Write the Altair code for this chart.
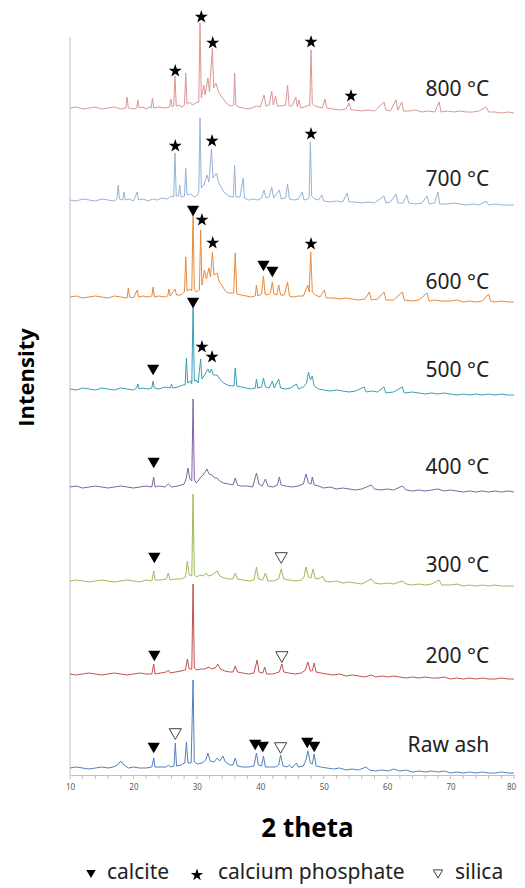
import altair as alt
import pandas as pd

# ---------------- data ----------------
series_names = ["Raw ash", "200 °C", "300 °C", "400 °C", "500 °C", "600 °C", "700 °C", "800 °C"]
series_offsets = [0, 94, 187, 281, 379, 471, 568, 660]
series_colors = ["#4f81bd", "#c0504d", "#9bbb59", "#8064a2", "#3a9fb5", "#e8893a", "#95b3d7", "#d99694"]
label_heights = [22, 17, 15, 19, 18, 14, 20, 18]
label_two_theta = 76.1

xrd_raw = [(10,0),(11,1),(12,0),(13,-1),(14,0),(15,1),(16,0),(16.8,1),(17.5,3),(18,7),(18.5,3),(19.2,0),(20,1),(21,0),(22,0),(22.9,1),(23.2,10),(23.4,1),(24.2,1),(25.2,1),(25.5,3),(25.8,1),(26.4,2),(26.6,25),(26.8,2),(27.5,3),(28.1,5),(28.35,26),(28.6,5),(29.1,5),(29.4,88),(29.6,6),(30.1,4),(30.8,5),(31.4,8),(31.75,15),(32.1,7),(32.7,6),(33.2,10),(33.6,7),(34.1,12),(34.5,6),(35.2,3),(35.7,3),(36.05,10),(36.4,2),(37.2,1),(38.2,1),(39,2),(39.4,15),(39.7,3),(40.2,2),(40.5,12),(40.8,1),(41.6,1),(42.4,1),(42.9,3),(43.2,13),(43.6,2),(44.2,1),(44.6,3),(45,0),(45.7,5),(46,1),(46.8,2),(47.2,8),(47.5,17),(47.9,5),(48.2,4),(48.5,14),(48.8,2),(49.5,1),(50.5,0),(51.5,-1),(52.5,0),(53.5,-2),(54.5,-1),(55.5,-2),(56.7,1),(57.2,-2),(58.2,-3),(59.2,-2),(60.2,-3),(61,-1),(62,-3),(63,-2),(64,-4),(65,-3),(66,-4),(67,-3),(68,-4),(69,-3),(70,-5),(71,-4),(72,-5),(73,-4),(74,-5),(75,-4),(76,-5),(77,-5),(78,-4),(79,-5),(80,-5)]

xrd_200 = [(10,0),(11,-1),(12,0),(13,1),(14,0),(15,-1),(16,0),(17,1),(18,0),(19,-1),(20,0),(21,1),(22,0),(22.9,0),(23.2,10),(23.4,0),(24.3,1),(25.2,2),(25.5,4),(25.8,1),(26.6,2),(27.5,3),(28.2,4),(28.5,15),(28.8,5),(29.2,5),(29.4,90),(29.6,6),(30,4),(30.6,5),(31.2,5),(31.9,7),(32.3,5),(32.9,6),(33.3,10),(33.7,5),(34.4,3),(35.2,2),(35.7,2),(36.05,8),(36.4,2),(37.2,1),(38.2,0),(39,1),(39.5,14),(39.8,2),(40.4,1),(40.7,7),(41,0),(42,0),(43,2),(43.4,10),(43.7,2),(44.5,1),(45.5,0),(46.5,1),(47.1,4),(47.5,12),(47.9,3),(48.2,3),(48.5,11),(48.8,2),(49.6,1),(50.5,0),(51.5,-1),(52.5,0),(53.5,-2),(54.5,-1),(55.5,-2),(56.5,-3),(57.5,-1),(58.2,-3),(59.2,-2),(60.2,-3),(61,-2),(62,-3),(63,-4),(64,-3),(65,-4),(66,-3),(67,-4),(68,-4),(69,-3),(70,-5),(71,-4),(72,-5),(73,-4),(74,-5),(75,-4),(76,-5),(77,-5),(78,-4),(79,-5),(80,-5)]

xrd_300 = [(10,0),(11,1),(12,0),(13,-1),(14,0),(15,1),(16,0),(17,-1),(18,0),(19,1),(20,0),(21,-1),(22,1),(22.9,0),(23.2,10),(23.4,1),(24.2,1),(25.2,2),(25.5,8),(25.8,1),(26.5,2),(27.5,2),(28.2,4),(28.5,20),(28.8,6),(29.2,5),(29.4,87),(29.6,6),(30,4),(30.5,6),(31,5),(31.5,8),(31.8,5),(32.4,6),(33.2,10),(33.6,5),(34.3,3),(35,2),(35.7,2),(36.05,8),(36.4,2),(37.2,1),(38.2,0),(39,1),(39.4,14),(39.7,2),(40.4,1),(40.8,8),(41.2,0),(42,0),(42.9,2),(43.3,12),(43.7,2),(44.5,1),(45.5,0),(46.5,1),(46.9,4),(47.2,14),(47.6,4),(48,3),(48.3,12),(48.7,2),(49.5,3),(49.8,5),(50.2,0),(51,-1),(52,0),(53,-2),(54,-1),(55,-2),(56,-3),(57.5,2),(58,-2),(59,-3),(60,-2),(61,-3),(62.4,0),(63,-3),(64,-4),(65,-3),(66,-4),(67,-3),(68.2,1),(68.6,-4),(70,-4),(71,-3),(72,-5),(73,-4),(74,-5),(75,-4),(76,-5),(77,-4),(78,-5),(79,-5),(80,-5)]

xrd_400 = [(10,0),(11,1),(12,-1),(13,0),(14,1),(15,0),(16,-1),(17,0),(18,1),(19,0),(20,-1),(21,0),(22,1),(22.9,0),(23.2,10),(23.4,0),(24,1),(25,0),(25.5,3),(26,0),(27,1),(28,3),(28.3,8),(28.6,19),(28.9,8),(29.2,6),(29.4,88),(29.6,8),(29.9,4),(30.2,6),(30.6,10),(31,12),(31.6,18),(31.9,13),(32.4,12),(32.8,9),(33.2,9),(33.6,6),(34.2,4),(35,3),(35.7,2),(36.05,9),(36.4,2),(37,1),(38,1),(38.8,0),(39.4,14),(39.8,3),(40.3,1),(40.8,8),(41.2,1),(42,0),(42.7,2),(43,10),(43.3,2),(44,1),(45,0),(46,1),(46.8,3),(47.2,13),(47.6,4),(48,3),(48.2,10),(48.5,2),(49.2,1),(50,-1),(51,0),(52,-2),(53,-1),(54,-2),(55,-3),(56,-2),(57.5,2),(58,-2),(59,-3),(60,-2),(61,-3),(62.4,1),(63,-3),(64,-4),(65,-3),(66,-4),(67,-3),(68,-2),(69,-4),(70,-3),(71,-4),(72,-5),(73,-4),(74,-5),(75,-4),(76,-5),(77,-4),(78,-5),(79,-4),(80,-5)]

xrd_500 = [(10,0),(11,-1),(12,1),(13,0),(14,-1),(15,1),(16,0),(17,-1),(18,1),(19,0),(20,-1),(20.5,1),(20.7,5),(20.9,0),(21.5,1),(22.3,0),(22.9,1),(23.1,8),(23.3,1),(24,0),(25,2),(25.8,1),(26,5),(26.2,1),(27,2),(27.8,4),(28.15,4),(28.35,31),(28.55,6),(29,8),(29.2,5),(29.4,83),(29.6,8),(29.9,9),(30.2,6),(30.6,30),(30.8,10),(31.2,14),(31.75,20),(32,16),(32.3,20),(32.6,14),(33.2,14),(33.6,10),(34.2,6),(34.8,4),(35.5,3),(35.85,3),(36.05,21),(36.3,3),(37,2),(37.8,1),(38.6,0),(39.2,1),(39.4,10),(39.6,1),(40.2,2),(40.5,11),(40.8,2),(41.4,1),(41.9,8),(42.2,1),(42.9,10),(43.2,1),(44,0),(44.8,1),(45.7,5),(46,0),(46.8,2),(47.3,6),(47.6,17),(47.9,9),(48.2,13),(48.5,3),(49.2,0),(50,-1),(51,-2),(52,-1),(53,-2),(54,-3),(55,-2),(56.4,2),(56.7,-3),(57.5,-2),(58.5,-3),(59.5,2),(59.8,-4),(61,-3),(62.4,2),(62.7,-4),(64,-3),(65,-4),(66,-5),(67,-4),(68,-5),(69,-4),(70,-5),(71,-6),(72,-5),(73,-6),(74,-5),(75,-6),(76,-5),(77,-6),(78,-5),(79,-6),(80,-6)]

xrd_600 = [(10,0),(11,1),(12,-1),(13,0),(14,1),(15,0),(16,-1),(17,1),(18,0),(19,-1),(19.2,9),(19.4,0),(20,-1),(20.6,7),(20.8,0),(21.5,1),(22.3,0),(22.9,1),(23.1,10),(23.3,0),(24,1),(25,0),(25.4,1),(25.6,8),(25.8,1),(26.55,8),(26.8,2),(27.5,2),(28.05,5),(28.25,40),(28.45,6),(28.9,8),(29.2,6),(29.4,85),(29.6,8),(29.9,5),(30.4,7),(30.6,67),(30.8,12),(31.2,27),(31.5,18),(31.9,29),(32.15,20),(32.45,45),(32.7,22),(33.2,24),(33.5,16),(34,11),(34.5,6),(35,4),(35.8,4),(36.05,44),(36.3,3),(37,2),(37.8,1),(38.5,0),(39.2,1),(39.4,12),(39.6,1),(40.2,3),(40.5,21),(40.75,3),(41.2,2),(41.6,4),(41.9,15),(42.15,3),(42.6,2),(42.9,12),(43.2,2),(43.8,2),(44.3,15),(44.6,1),(45.2,0),(46,1),(46.8,1),(47.5,12),(47.7,5),(47.95,45),(48.2,5),(48.7,2),(49.4,0),(50.1,7),(50.4,-1),(51.5,-1),(52.5,-2),(53.5,-1),(54.5,-2),(55.5,-3),(56.5,-2),(57.2,5),(57.5,-3),(58.5,-2),(59.5,5),(59.8,-3),(61,-3),(62.4,5),(62.7,-3),(64,-4),(65,-3),(66.3,4),(66.6,-4),(67.5,-3),(68.5,-4),(70,-4),(71,-3),(72,-5),(73,-4),(74,-5),(75,-4),(76,3),(76.3,-4),(77,-5),(78,-4),(79,-5),(80,-5)]

xrd_700 = [(10,0),(11,-1),(12,1),(13,0),(14,-1),(15,1),(16,0),(17,-1),(17.4,1),(17.6,15),(17.8,1),(18.3,0),(18.5,8),(18.7,0),(19.3,1),(20,-1),(20.6,8),(20.8,0),(21.5,1),(22.3,-1),(23,1),(23.8,0),(24.5,2),(25.3,1),(26,4),(26.35,3),(26.55,47),(26.75,4),(27.1,4),(27.3,15),(27.5,3),(28.05,4),(28.25,32),(28.45,5),(29,6),(29.6,3),(30.1,5),(30.3,8),(30.5,82),(30.7,12),(31.1,15),(31.6,25),(31.9,18),(32.3,51),(32.55,22),(33.1,27),(33.4,18),(33.9,12),(34.4,7),(35,4),(35.75,3),(35.95,35),(36.15,3),(36.8,3),(37.3,22),(37.5,2),(38.2,0),(39,1),(39.6,0),(40.2,2),(40.6,10),(40.9,2),(41.4,3),(41.8,13),(42.1,2),(43,10),(43.3,1),(44,2),(44.3,16),(44.6,1),(45.3,0),(46,1),(46.6,8),(46.9,0),(47.5,1),(47.7,3),(47.9,58),(48.1,4),(48.6,1),(49.2,0),(49.7,5),(50,-1),(51,-2),(52,-1),(53,-2),(53.7,7),(54,-2),(55,-2),(56,-3),(57,-2),(58,-3),(59.5,4),(59.8,-3),(60.5,-2),(61.4,6),(61.7,-3),(62.5,-3),(63.1,5),(63.4,-3),(64.5,-4),(65.5,-3),(66.3,4),(66.6,-4),(67.5,-3),(68,8),(68.3,-4),(69.5,-4),(70.5,-3),(71.5,-4),(72.5,-5),(73.5,-4),(74.5,-5),(75.6,-1),(76,-5),(77,-4),(78,-5),(79,-5),(80,-5)]

xrd_800 = [(10,0),(11,1),(12,-1),(13,0),(14,1),(15,-1),(16,0),(17,1),(18,-1),(18.8,0),(19,11),(19.2,0),(20,-1),(20.5,0),(20.7,8),(20.9,0),(21.5,1),(22,-1),(22.5,1),(22.8,0),(23,10),(23.2,0),(24,1),(25,0),(25.7,1),(25.9,9),(26.1,1),(26.35,2),(26.55,32),(26.75,2),(27.2,3),(27.6,1),(28.05,3),(28.25,35),(28.45,4),(28.9,6),(29.3,3),(29.8,5),(30.3,6),(30.5,85),(30.7,10),(31.1,23),(31.3,13),(31.75,30),(32,16),(32.45,60),(32.65,20),(33,25),(33.4,16),(33.8,12),(34.3,8),(34.8,4),(35.3,2),(35.8,3),(35.95,35),(36.15,3),(36.6,1),(37.3,0),(38,-1),(38.7,0),(39.4,2),(40,1),(40.6,13),(40.9,2),(41.4,3),(41.8,17),(42.05,3),(42.4,12),(42.7,2),(43.3,2),(44,3),(44.3,23),(44.55,2),(45,2),(45.6,11),(45.85,1),(46.1,8),(46.4,0),(47,1),(47.6,3),(47.8,2),(48.0,58),(48.2,4),(48.6,2),(49.2,1),(49.8,0),(50.2,9),(50.5,0),(51.5,-1),(52.5,-2),(53.5,-1),(54,5),(54.3,-2),(55,-2),(56,-3),(57,-2),(58,-3),(59.5,6),(59.8,-2),(60.5,-3),(61.4,8),(61.7,-2),(62.3,6),(62.6,-3),(63.5,-3),(64.5,-2),(65.5,-4),(66.5,-3),(67.5,-4),(68.2,6),(68.5,-4),(69.5,-3),(70.5,-4),(71.5,-3),(72.5,-4),(73.5,-4),(74.5,-3),(75.6,1),(76,-4),(77,-4),(78,-5),(79,-4),(80,-5)]

patterns = [xrd_raw, xrd_200, xrd_300, xrd_400, xrd_500, xrd_600, xrd_700, xrd_800]

# phase markers: (series, 2theta, height above that trace's baseline)
calcite_marks = [("Raw ash", 23.2, 20), ("Raw ash", 39.2, 23), ("Raw ash", 40.4, 21), ("Raw ash", 47.4, 25), ("Raw ash", 48.5, 21),
                 ("200 °C", 23.3, 18), ("300 °C", 23.3, 23), ("400 °C", 23.2, 24),
                 ("500 °C", 23.1, 19), ("500 °C", 29.4, 86),
                 ("600 °C", 29.4, 86), ("600 °C", 40.5, 31), ("600 °C", 41.9, 25)]
phosphate_marks = [("500 °C", 30.8, 42), ("500 °C", 32.4, 32),
                   ("600 °C", 30.8, 77), ("600 °C", 32.5, 54), ("600 °C", 48.0, 53),
                   ("700 °C", 26.6, 54), ("700 °C", 32.4, 59), ("700 °C", 48.0, 66),
                   ("800 °C", 26.6, 37), ("800 °C", 30.7, 91), ("800 °C", 32.5, 65), ("800 °C", 48.0, 66), ("800 °C", 54.3, 12)]
silica_marks = [("Raw ash", 26.6, 34), ("Raw ash", 43.2, 20), ("200 °C", 43.4, 17), ("300 °C", 43.3, 23)]

x_labels = [10, 20, 30, 40, 50, 60, 70, 80]
x_ticks = [10, 12, 14, 16, 18, 20, 22, 24, 26, 28, 30, 32, 34, 36, 38, 40, 42, 44, 46, 48, 50,
           52, 54, 56, 58, 60, 62, 64, 66, 68, 70, 72, 74, 76, 78, 80]

legend_items = ["calcite", "calcium phosphate", "silica"]

# ---------------- tables ----------------
offset_of = dict(zip(series_names, series_offsets))
rows = []
for name, pts in zip(series_names, patterns):
    for tt, v in pts:
        rows.append({"series": name, "two_theta": tt, "y": v + offset_of[name]})
df = pd.DataFrame(rows)

def mark_df(lst):
    return pd.DataFrame([{"series": s, "two_theta": t, "y": h + offset_of[s]} for s, t, h in lst])

df_cal = mark_df(calcite_marks)
df_pho = mark_df(phosphate_marks)
df_sil = mark_df(silica_marks)
df_lab = pd.DataFrame({"series": series_names,
                       "two_theta": [label_two_theta] * len(series_names),
                       "y": [o + h for o, h in zip(series_offsets, label_heights)]})
df_ticks = pd.DataFrame({"two_theta": x_ticks})

STAR = "M0,-1 L0.225,-0.309 L0.951,-0.309 L0.363,0.118 L0.588,0.809 L0,0.382 L-0.588,0.809 L-0.363,0.118 L-0.951,-0.309 L-0.225,-0.309 Z"

PLOT_H = 765
xscale = alt.Scale(domain=[10, 80], nice=False, zero=False)
yscale = alt.Scale(domain=[-7, 758], nice=False, zero=False)

X = alt.X("two_theta:Q", scale=xscale,
          axis=alt.Axis(values=x_labels, labelFlush=False, labelOverlap=False, grid=False, ticks=False,
                        labelOffset={"condition": {"test": "datum.value == 80", "value": -3}, "value": 0},
                        domainColor="#bfbfbf", labelFontSize=8, labelColor="#595959", labelFont="Noto Sans",
                        labelPadding=8, title="2 theta", titleFont="Open Sans", titleFontSize=26,
                        titleFontWeight="bold", titleColor="#000000", titleX=237, titleY=53,
                        titleBaseline="middle", titleAlign="center"))
Y = alt.Y("y:Q", scale=yscale,
          axis=alt.Axis(labels=False, ticks=False, domain=False, grid=False, title="Intensity",
                        titleFont="Open Sans", titleFontSize=22, titleFontWeight="bold", titleColor="#000000",
                        titleAngle=270, titleX=-44, titleY=367, titleBaseline="middle", titleAlign="center"))

lines = alt.Chart(df).mark_line(strokeWidth=1, interpolate="linear").encode(
    x=X, y=Y,
    color=alt.Color("series:N", scale=alt.Scale(domain=series_names, range=series_colors), legend=None),
    order=alt.Order("two_theta:Q"),
)

yaxis_line = alt.Chart(pd.DataFrame({"a": [0]})).mark_rule(color="#bfbfbf", strokeWidth=1).encode(
    x=alt.datum(10), y=alt.datum(-7), y2=alt.datum(731))

minor_ticks = alt.Chart(df_ticks).mark_rule(color="#bfbfbf", strokeWidth=1).encode(
    x="two_theta:Q", y=alt.value(PLOT_H), y2=alt.value(PLOT_H + 4))

cal = alt.Chart(df_cal).mark_point(shape="triangle-down", filled=True, color="#000000", size=150, opacity=1).encode(
    x="two_theta:Q", y="y:Q")
pho = alt.Chart(df_pho).mark_point(shape=STAR, filled=True, color="#000000", size=190, opacity=1).encode(
    x="two_theta:Q", y="y:Q")
sil = alt.Chart(df_sil).mark_point(shape="triangle-down", filled=True, fill="#ffffff", stroke="#404040",
                                   strokeWidth=1, size=150, opacity=1).encode(x="two_theta:Q", y="y:Q")

labels = alt.Chart(df_lab).mark_text(align="right", baseline="middle", font="Noto Sans", fontSize=21,
                                     color="#222222").encode(x="two_theta:Q", y="y:Q", text="series:N")

# legend row (below the x-axis title)
LEG_Y = 864
leg_sym1 = alt.Chart(pd.DataFrame({"a": [0]})).mark_point(shape="triangle-down", filled=True, color="#000000",
                                                           size=90, opacity=1).encode(x=alt.value(21), y=alt.value(LEG_Y))
leg_sym2 = alt.Chart(pd.DataFrame({"a": [0]})).mark_point(shape=STAR, filled=True, color="#000000",
                                                           size=170, opacity=1).encode(x=alt.value(127), y=alt.value(LEG_Y + 1))
leg_sym3 = alt.Chart(pd.DataFrame({"a": [0]})).mark_point(shape="triangle-down", filled=True, fill="#ffffff",
                                                           stroke="#404040", strokeWidth=1, size=90, opacity=1).encode(
    x=alt.value(368), y=alt.value(LEG_Y))
leg_txt = alt.Chart(pd.DataFrame({"label": legend_items, "px": [37, 148, 385]})).mark_text(
    align="left", baseline="middle", font="Noto Sans", fontSize=21, color="#222222").encode(
    x=alt.X("px:Q", scale=None), y=alt.value(LEG_Y - 1), text="label:N")

chart = alt.layer(yaxis_line, minor_ticks, lines, cal, pho, sil, labels, leg_sym1, leg_sym2, leg_sym3, leg_txt).properties(
    width=444, height=PLOT_H,
    autosize=alt.AutoSizeParams(type="none"),
    padding={"left": 62, "top": 2, "right": 3, "bottom": 113},
).configure_view(stroke=None)

chart.save("out.html", embed_options={"renderer": "svg", "actions": False})
